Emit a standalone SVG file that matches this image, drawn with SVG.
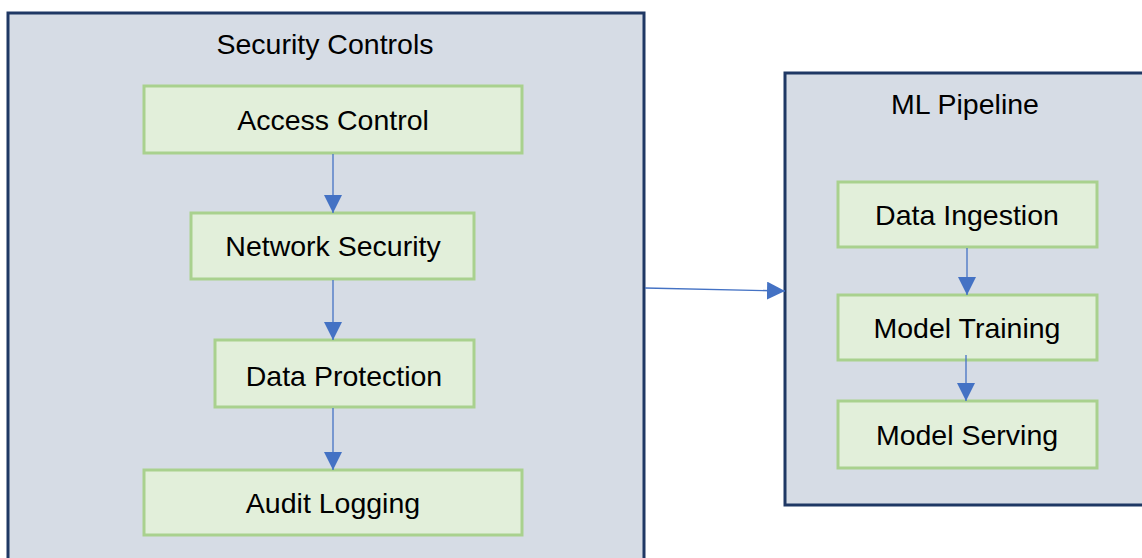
<svg xmlns="http://www.w3.org/2000/svg" width="1142" height="558" viewBox="0 0 1142 558">
<style>
.container{fill:#d6dce5;stroke:#1f3864;stroke-width:3}
.box{fill:#e2efda;stroke:#a9d18e;stroke-width:3}
.label{font-family:"Liberation Sans",Arial,sans-serif;font-size:28.5px;fill:#000;text-anchor:middle;dominant-baseline:central}
.conn{stroke:#4472c4;stroke-width:1.3;fill:none}
</style>
<defs>
<marker id="arrow" markerUnits="userSpaceOnUse" markerWidth="18" markerHeight="18" refX="18" refY="9" orient="auto" viewBox="0 0 18 18">
<path d="M0,0 L18,9 L0,18 Z" fill="#4472c4"/>
</marker>
</defs>
<rect width="1142" height="558" fill="#ffffff"/>
<g id="security-controls">
<rect class="container" x="8" y="13" width="636" height="560"/>
<text class="label" x="325" y="44">Security Controls</text>
</g>
<g id="ml-pipeline">
<rect class="container" x="785" y="73" width="370" height="432"/>
<text class="label" x="965" y="104">ML Pipeline</text>
</g>
<g id="access-control">
<rect class="box" x="144" y="86" width="378" height="67"/>
<text class="label" x="333" y="120">Access Control</text>
</g>
<g id="network-security">
<rect class="box" x="191" y="213" width="283" height="66"/>
<text class="label" x="333" y="246">Network Security</text>
</g>
<g id="data-protection">
<rect class="box" x="215" y="340" width="259" height="67"/>
<text class="label" x="344" y="376">Data Protection</text>
</g>
<g id="audit-logging">
<rect class="box" x="144" y="470" width="378" height="65"/>
<text class="label" x="333" y="503">Audit Logging</text>
</g>
<g id="data-ingestion">
<rect class="box" x="838" y="182" width="259" height="65"/>
<text class="label" x="967" y="215">Data Ingestion</text>
</g>
<g id="model-training">
<rect class="box" x="838" y="295" width="259" height="65"/>
<text class="label" x="967" y="328">Model Training</text>
</g>
<g id="model-serving">
<rect class="box" x="838" y="401" width="259" height="67"/>
<text class="label" x="967" y="435">Model Serving</text>
</g>
<g id="connectors">
<line class="conn" x1="333" y1="154" x2="333" y2="213" marker-end="url(#arrow)"/>
<line class="conn" x1="333" y1="280" x2="333" y2="340" marker-end="url(#arrow)"/>
<line class="conn" x1="333" y1="408" x2="333" y2="470" marker-end="url(#arrow)"/>
<line class="conn" x1="967" y1="248" x2="967" y2="295" marker-end="url(#arrow)"/>
<line class="conn" x1="966" y1="355" x2="966" y2="401" marker-end="url(#arrow)"/>
<line class="conn" x1="645" y1="288" x2="785" y2="291" marker-end="url(#arrow)"/>
</g>
</svg>
